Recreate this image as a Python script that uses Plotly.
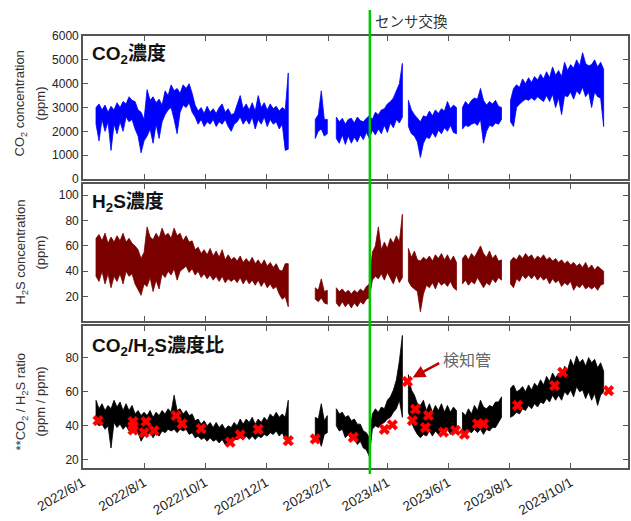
import pandas as pd
import plotly.graph_objects as go

# ---------------- data: upper / lower edge of each noisy band on a 3-day grid ----------------
# grid starts 2022-06-14, one value every 3 days; None = no data
grid_start = "2022-06-14"
grid_step = "3D"
N = None

co2_hi = [
    3000, 3150, 2900, 3100, 2800, 3050, 2900, 3200, 3000, 3250,
    3150, 3450, 3300, 3250, 2900, 2800, 2500, 3750, 3300, 3450,
    3200, 3350, 3100, 3700, 3500, 3950, 3700, 3800, 3600, 3950,
    3800, 4000, 3600, 3100, 2850, 3000, 2750, 3050, 2800, 2950,
    2750, 3000, 3150, 2800, 2950, 2700, 2750, 3100, 3500, 2950,
    3150, 2900, 3200, 2850, 3500, 3000, 3200, 2900, 3150, 2950,
    3050, 2850, 3000, 2900, 4450,
    N, N, N, N, N, N, N, N,
    2500, 2700, 3700, 2500, 2500,
    N, N,
    2600, 2400, 2550, 2300, 2500, 2550, 2350, 2600, 2450, 2400,
    2550, 2650, 2500, 2800, 2700, 2900, 2950, 3150, 3250, 3400,
    3700, 4000, 4850,
    N,
    3300, 2900, 2700, 2550, 2400, 2650, 2600, 2850, 2650, 2900,
    2750, 2950, 2850, 3250, 2950, 3100, 3000,
    N,
    3000, 3250, 3100, 3300, 3400, 3350, 3800, 3300, 3100, 3250,
    3150, 3300, 3050, 3000,
    N, N,
    3300, 3800, 3950, 3850, 4200, 4000, 4250, 4050, 4300, 4150,
    4400, 4200, 4500, 4250, 4700, 4350, 4550, 4300, 4900, 4550,
    4800, 4650, 5000, 4750, 5300, 4850, 4750, 4800, 5000, 4700,
    4900, 4600,
]
co2_lo = [
    2300, 1600, 2500, 2000, 2400, 1200, 2300, 1900, 2400, 2000,
    2600, 2400, 2500, 2100, 1800, 1100, 1600, 1800, 2100, 1500,
    2300, 1700, 2400, 2700, 2900, 3000, 2500, 1900, 2800, 3100,
    3000, 3200, 2800, 2600, 2300, 2500, 2200, 2400, 2300, 2500,
    2200, 2400, 2300, 2500, 2200, 2000, 2300, 2400, 2600, 2300,
    2500, 2300, 2600, 2100, 2500, 2300, 2600, 2200, 2500, 2300,
    2400, 2100, 2300, 1200, 1250,
    N, N, N, N, N, N, N, N,
    1700, 2000, 2100, 1800, 1900,
    N, N,
    1700, 1500, 1850, 1450, 1800, 1500, 1750, 1550, 1850, 1650,
    1950, 1700, 2050, 1850, 2100, 1900, 2250, 1950, 2350, 2150,
    2500, 2350, 2600,
    N,
    2200, 1900, 1800, 1550, 900, 1500, 1750, 1700, 1950, 1750,
    2050, 1900, 2150, 2000, 2250, 1950, 1900,
    N,
    2100, 2250, 2200, 2300, 2350, 2250, 2500, 1500, 2000, 2250,
    2200, 2350, 2300, 2500,
    N, N,
    2400, 2200, 3000, 3150, 3250, 3350, 3300, 3400, 3300, 3450,
    3350, 3250, 3500, 3250, 3550, 3000, 3400, 2700, 3500, 3450,
    3650, 3350, 3700, 3550, 3850, 3450, 3650, 3000, 3650, 3450,
    3400, 2200,
]

h2s_hi = [
    66, 69, 64, 70, 62, 67, 63, 68, 64, 70,
    63, 66, 62, 60, 57, 50, 55, 75, 67, 65,
    70, 66, 74, 68, 70, 66, 74, 68, 70, 64,
    68, 63, 64, 57, 59, 54, 57, 53, 58, 52,
    56, 51, 57, 49, 53, 49, 51, 48, 52, 47,
    50, 47, 51, 46, 49, 45, 49, 44, 47, 43,
    46, 41, 40, 46, 46,
    N, N, N, N, N, N, N, N,
    27, 25, 34, 24, 25,
    N, N,
    27, 24, 26, 23, 25, 22, 25, 23, 26, 24,
    28, 30, 55, 60, 75, 57, 63, 58, 66, 62,
    68, 63, 85,
    N,
    58, 51, 56, 49, 48, 51, 49, 52, 48, 53,
    50, 54, 49, 53, 48, 52, 47,
    N,
    50, 53, 49, 54, 51, 55, 60, 54, 51, 56,
    50, 53, 48, 49,
    N, N,
    48, 51, 49, 53, 50, 54, 51, 53, 49, 52,
    50, 53, 49, 51, 48, 50, 47, 49, 46, 48,
    45, 47, 44, 46, 43, 47, 42, 45, 41, 44,
    42, 40,
]
h2s_lo = [
    36, 32, 40, 30, 38, 27, 36, 32, 38, 30,
    40, 36, 38, 30, 26, 21, 30, 28, 35, 24,
    33, 26, 38, 35, 40, 37, 42, 33, 40, 42,
    44, 39, 42, 37, 40, 35, 38, 34, 37, 33,
    36, 32, 36, 31, 34, 32, 34, 31, 35, 30,
    34, 30, 33, 29, 33, 28, 32, 27, 30, 26,
    28, 22, 18, 20, 12,
    N, N, N, N, N, N, N, N,
    18, 16, 19, 15, 14,
    N, N,
    15, 12, 16, 12, 15, 11, 15, 12, 16, 14,
    18, 19, 33, 36, 34, 38, 33, 39, 34, 30,
    37, 31, 35,
    N,
    32, 28, 26, 24, 8, 22, 29, 27, 31, 26,
    32, 29, 31, 28, 32, 27, 25,
    N,
    30, 33, 29, 32, 30, 35, 31, 27, 31, 29,
    34, 31, 35, 33,
    N, N,
    30, 27, 34, 32, 37, 34, 37, 34, 37, 33,
    36, 33, 35, 30, 34, 31, 33, 28, 31, 29,
    32, 25, 29, 27, 30, 26, 28, 26, 28, 25,
    29, 30,
]

ratio_hi = [
    55, 50, 53, 49, 52, 50, 55, 51, 54, 49,
    53, 49, 52, 47, 49, 46, 48, 46, 49, 45,
    48, 46, 49, 47, 50, 48, 58, 49, 50, 47,
    49, 46, 47, 43, 44, 41, 43, 40, 42, 39,
    42, 39, 41, 38, 40, 39, 42, 40, 44, 41,
    44, 42, 45, 41, 44, 42, 45, 43, 47, 45,
    48, 45, 47, 45, 55,
    N, N, N, N, N, N, N, N,
    45, 44, 53, 43, 46,
    N, N,
    50, 47, 48, 45, 46, 43, 44, 41, 41, 37,
    36, 33, 47, 50, 48, 51, 50, 55, 57, 61,
    67, 78, 93,
    N,
    70, 61, 58, 53, 52, 55, 49, 53, 48, 52,
    49, 53, 48, 52, 48, 51, 49,
    N,
    48, 46, 50, 47, 52, 49, 55, 51, 50, 52,
    51, 54, 54, 57,
    N, N,
    62, 64, 60, 61, 63, 60, 64, 61, 65, 63,
    67, 64, 69, 66, 71, 68, 71, 69, 75, 73,
    79, 75, 81, 77, 79, 75, 80, 77, 79, 74,
    77, 72,
]
ratio_lo = [
    42, 40, 41, 38, 40, 27, 42, 39, 41, 38,
    40, 37, 39, 35, 36, 31, 34, 35, 36, 33,
    36, 34, 37, 36, 38, 37, 38, 36, 38, 37,
    38, 35, 36, 33, 34, 32, 33, 31, 33, 31,
    32, 30, 32, 29, 30, 30, 32, 32, 33, 32,
    34, 32, 34, 32, 34, 33, 35, 34, 36, 35,
    37, 34, 36, 32, 32,
    N, N, N, N, N, N, N, N,
    34, 33, 28, 35, 36,
    N, N,
    40, 37, 38, 33, 35, 32, 33, 29, 31, 27,
    26, 22, 38, 40, 39, 41, 42, 44, 45, 48,
    50, 55, 45,
    N,
    48, 42, 38, 35, 33, 35, 34, 37, 34, 37,
    35, 38, 35, 38, 35, 37, 36,
    N,
    36, 34, 37, 36, 38, 36, 38, 35, 38, 37,
    39, 39, 42, 45,
    N, N,
    45, 46, 48, 47, 50, 49, 52, 50, 53, 51,
    54, 53, 56, 54, 58, 55, 58, 55, 60, 58,
    61, 57, 63, 60, 61, 56, 60, 55, 59, 52,
    58, 60,
]

# detector-tube (検知管) measurements
tube_dates = ["2022-06-16", "2022-07-21", "2022-07-21", "2022-07-21", "2022-08-01",
              "2022-08-03", "2022-08-11", "2022-09-02", "2022-09-08", "2022-09-27",
              "2022-10-26", "2022-11-05", "2022-11-23", "2022-12-23", "2023-01-19",
              "2023-02-26", "2023-03-29", "2023-04-06", "2023-04-21", "2023-04-26",
              "2023-04-29", "2023-05-09", "2023-05-12", "2023-05-27", "2023-06-08",
              "2023-06-17", "2023-06-30", "2023-07-06", "2023-08-09", "2023-09-15",
              "2023-09-23", "2023-11-08"]
tube_ratio = [43.1, 42.5, 40.0, 37.6, 36.0, 42.5, 37.2, 46.0, 41.2, 38.4,
              30.4, 34.7, 38.0, 31.3, 32.3, 33.3, 38.0, 40.6, 66.0, 43.1,
              49.8, 39.0, 46.1, 36.3, 37.3, 35.1, 41.2, 41.2, 52.0, 63.6,
              71.4, 60.6]

sensor_change_date = "2023-03-14 12:00"
arrow_target = ("2023-04-26 07:00", 68.4)
x_range = ["2022-06-01", "2023-11-27 08:00"]

co2_ticks = [0, 1000, 2000, 3000, 4000, 5000, 6000]
h2s_ticks = [20, 40, 60, 80, 100]
ratio_ticks = [20, 40, 60, 80]

dates = list(pd.date_range(grid_start, periods=len(co2_hi), freq=grid_step))


def band_polygons(hi, lo):
    """Closed outline (upper edge forward, lower edge back) for every run of data."""
    xs, ys = [], []
    run = []
    for d, h, l in list(zip(dates, hi, lo)) + [(None, None, None)]:
        if h is None:
            if run:
                xs += [r[0] for r in run] + [r[0] for r in reversed(run)] + [run[0][0], None]
                ys += [r[1] for r in run] + [r[2] for r in reversed(run)] + [run[0][1], None]
                run = []
        else:
            run.append((d, h, l))
    return xs, ys


# ---------------- figure ----------------
FONT = "Liberation Sans, Arial, Noto Sans CJK JP, sans-serif"
JP = "Noto Sans CJK JP, sans-serif"

fig = go.Figure()
for hi, lo, col, xa, ya in [(co2_hi, co2_lo, "#0000ff", "x", "y"),
                            (h2s_hi, h2s_lo, "#7a0000", "x2", "y2"),
                            (ratio_hi, ratio_lo, "#000000", "x3", "y3")]:
    bx, by = band_polygons(hi, lo)
    fig.add_trace(go.Scatter(x=bx, y=by, mode="lines", xaxis=xa, yaxis=ya,
                             fill="toself", fillcolor=col,
                             line=dict(color=col, width=0.8),
                             connectgaps=False, showlegend=False, hoverinfo="skip"))

fig.add_trace(go.Scatter(x=tube_dates, y=tube_ratio, mode="markers", xaxis="x3", yaxis="y3",
                         marker=dict(symbol="x", size=9.5, color="#ff0000",
                                     line=dict(width=0.4, color="#ff0000")),
                         showlegend=False))

frame = dict(showline=True, linecolor="#555555", linewidth=1.6, mirror="ticks",
             ticks="inside", ticklen=5, tickcolor="#555555", tickwidth=1.2,
             showgrid=False, zeroline=False, automargin=False)
xcommon = dict(frame, type="date", range=x_range, dtick="M2", tick0="2022-06-01")

fig.update_layout(
    width=631, height=521,
    margin=dict(l=83, r=3, t=36, b=53, autoexpand=False),
    paper_bgcolor="white", plot_bgcolor="white",
    font=dict(family=FONT, size=12, color="#222222"),
    xaxis=dict(xcommon, anchor="y", showticklabels=False),
    xaxis2=dict(xcommon, anchor="y2", matches="x", showticklabels=False),
    xaxis3=dict(xcommon, anchor="y3", matches="x", tickformat="%Y/%-m/%-d",
                tickangle=-30, tickfont=dict(size=13.5, color="#222222")),
    yaxis=dict(frame, domain=[0.669, 1.0], range=[0, 6000], tickvals=co2_ticks,
               tickfont=dict(size=12), anchor="x"),
    yaxis2=dict(frame, domain=[0.341, 0.657], range=[1, 108.7], tickvals=h2s_ticks,
                tickfont=dict(size=12), anchor="x2"),
    yaxis3=dict(frame, domain=[0.0, 0.329], range=[15.3, 98.6], tickvals=ratio_ticks,
                tickfont=dict(size=12), anchor="x3"),
)

# sensor change line
fig.add_shape(type="line", xref="x", yref="paper",
              x0=sensor_change_date, x1=sensor_change_date, y0=-0.014, y1=1.06,
              line=dict(color="#00c800", width=2.5), layer="above")

ann = []
ann.append(dict(xref="x", yref="paper", x=sensor_change_date, y=1.037, xshift=3,
                xanchor="left", yanchor="middle", showarrow=False,
                text="センサ交換", font=dict(family=JP, size=14.5, color="#333333")))
# panel titles
for txt, yy in [("<b>CO<sub>2</sub>濃度</b>", 0.955),
                ("<b>H<sub>2</sub>S濃度</b>", 0.614),
                ("<b>CO<sub>2</sub>/H<sub>2</sub>S濃度比</b>", 0.279)]:
    ann.append(dict(xref="paper", yref="paper", x=0.012, y=yy, xanchor="left",
                    yanchor="middle", showarrow=False, text=txt,
                    font=dict(family=FONT, size=19, color="#111111")))
# y-axis titles (two lines each, placed separately)
for line1, line2, yy in [("CO<sub>2</sub> concentration", "(ppm)", 0.845),
                         ("H<sub>2</sub>S concentration", "(ppm)", 0.5),
                         ("**CO<sub>2</sub> / H<sub>2</sub>S ratio", "(ppm / ppm)", 0.155)]:
    for txt, xx in [(line1, -0.113), (line2, -0.078)]:
        ann.append(dict(xref="paper", yref="paper", x=xx, y=yy, xanchor="center",
                        yanchor="middle", textangle=-90, showarrow=False, text=txt,
                        font=dict(family=FONT, size=13, color="#333333")))
# 検知管 label + arrow
ann.append(dict(xref="x3", yref="y3", x="2023-05-25", y=79.2, xanchor="left",
                yanchor="middle", showarrow=False, text="検知管",
                font=dict(family=JP, size=16, color="#666666")))
ann.append(dict(xref="x3", yref="y3", x=arrow_target[0], y=arrow_target[1], text="",
                showarrow=True, ax=28, ay=-15, arrowhead=2, arrowsize=1,
                arrowwidth=2.5, arrowcolor="#c00000"))
fig.update_layout(annotations=ann)

fig.write_html("out.html",
               config={"displayModeBar": False},
               post_script="document.body.style.margin='0px';"
                           "document.body.style.overflow='hidden';")
